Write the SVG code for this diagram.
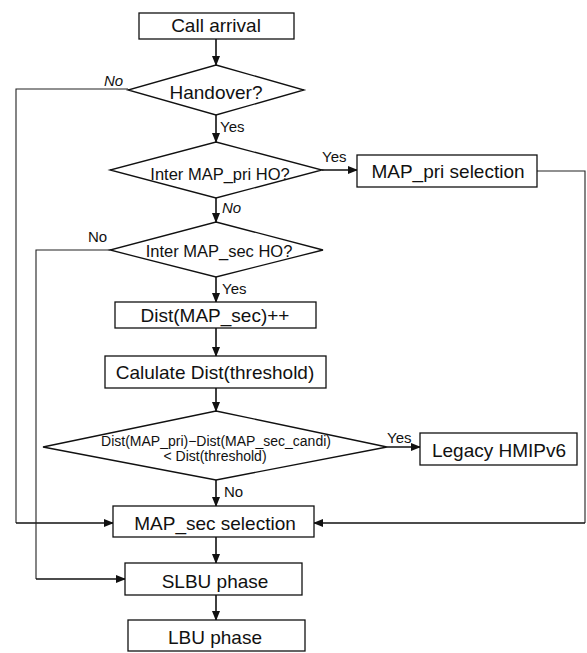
<svg xmlns="http://www.w3.org/2000/svg" width="587" height="653" viewBox="0 0 587 653">
<style>
  .box{fill:#fff;stroke:#111;stroke-width:1.3}
  .dia{fill:#fff;stroke:#111;stroke-width:1.3}
  .t{font-family:"Liberation Sans",Arial,sans-serif;fill:#111;text-anchor:middle}
  .big{font-size:19px}
  .mid{font-size:16.5px}
  .sm{font-size:14px}
  .lbl{font-family:"Liberation Sans",Arial,sans-serif;fill:#111;font-size:15px}
  .it{font-style:italic}
  .ln{fill:none;stroke:#111;stroke-width:1.6}
  .thin{fill:none;stroke:#222;stroke-width:1.1}
</style>
<defs>
  <marker id="ah" markerWidth="10" markerHeight="8" refX="9" refY="4" orient="auto" markerUnits="userSpaceOnUse">
    <path d="M0,0 L10,4 L0,8 Z" fill="#111"/>
  </marker>
</defs>
<rect width="587" height="653" fill="#fff"/>
<g id="connectors">
  <line class="ln" x1="216" y1="39" x2="216" y2="65" marker-end="url(#ah)"/>
  <line class="ln" x1="216" y1="115" x2="216" y2="142" marker-end="url(#ah)"/>
  <line class="ln" x1="216" y1="198" x2="216" y2="222" marker-end="url(#ah)"/>
  <line class="ln" x1="216" y1="277" x2="216" y2="302" marker-end="url(#ah)"/>
  <line class="ln" x1="216" y1="328" x2="216" y2="356" marker-end="url(#ah)"/>
  <line class="ln" x1="216" y1="388" x2="216" y2="411" marker-end="url(#ah)"/>
  <line class="ln" x1="216" y1="480" x2="216" y2="506" marker-end="url(#ah)"/>
  <line class="ln" x1="216" y1="537" x2="216" y2="563" marker-end="url(#ah)"/>
  <line class="ln" x1="216" y1="595" x2="216" y2="620" marker-end="url(#ah)"/>
  <line class="ln" x1="322" y1="170" x2="357" y2="170" marker-end="url(#ah)"/>
  <line class="ln" x1="387" y1="447" x2="420" y2="447" marker-end="url(#ah)"/>
  <polyline class="thin" points="128,89 16,89 16,523"/>
  <line class="ln" x1="16" y1="523" x2="113" y2="523" marker-end="url(#ah)"/>
  <polyline class="thin" points="537,171 585,171 585,523"/>
  <line class="ln" x1="585" y1="523" x2="314" y2="523" marker-end="url(#ah)"/>
  <polyline class="thin" points="110,250 36,250 36,579"/>
  <line class="ln" x1="36" y1="579" x2="125" y2="579" marker-end="url(#ah)"/>
  <text class="lbl it" x="104" y="86">No</text>
  <text class="lbl" x="220" y="132">Yes</text>
  <text class="lbl" x="322" y="162">Yes</text>
  <text class="lbl it" x="222" y="213">No</text>
  <text class="lbl" x="88" y="242">No</text>
  <text class="lbl" x="222" y="294">Yes</text>
  <text class="lbl" x="387" y="443">Yes</text>
  <text class="lbl" x="224" y="497">No</text>
</g>
<g id="call-arrival">
  <rect class="box" x="139" y="13" width="155" height="26"/>
  <text class="t big" x="216" y="32">Call arrival</text>
</g>
<g id="handover">
  <polygon class="dia" points="216,65 304,90 216,115 128,90"/>
  <text class="t big" x="216" y="99">Handover?</text>
</g>
<g id="inter-map-pri">
  <polygon class="dia" points="216,142 322,170 216,198 110,170"/>
  <text class="t mid" x="220" y="180">Inter MAP_pri HO?</text>
</g>
<g id="map-pri-selection">
  <rect class="box" x="357" y="155" width="180" height="32"/>
  <text class="t big" x="448" y="178">MAP_pri selection</text>
</g>
<g id="inter-map-sec">
  <polygon class="dia" points="216,222 323,250 216,277 110,250"/>
  <text class="t mid" x="219" y="257">Inter MAP_sec HO?</text>
</g>
<g id="dist-map-sec">
  <rect class="box" x="115" y="302" width="201" height="26"/>
  <text class="t big" x="215" y="322">Dist(MAP_sec)++</text>
</g>
<g id="calculate">
  <rect class="box" x="105" y="356" width="221" height="32"/>
  <text class="t big" x="215" y="379">Calulate Dist(threshold)</text>
</g>
<g id="dist-compare">
  <polygon class="dia" points="216,411 387,447 216,480 43,447"/>
  <text class="t sm" x="216" y="446">Dist(MAP_pri)−Dist(MAP_sec_candi)</text>
  <text class="t sm" x="215" y="461">&lt; Dist(threshold)</text>
</g>
<g id="legacy-hmipv6">
  <rect class="box" x="420" y="433" width="157" height="32"/>
  <text class="t big" x="499" y="457">Legacy HMIPv6</text>
</g>
<g id="map-sec-selection">
  <rect class="box" x="113" y="506" width="201" height="31"/>
  <text class="t big" x="215" y="530">MAP_sec selection</text>
</g>
<g id="slbu-phase">
  <rect class="box" x="125" y="563" width="177" height="32"/>
  <text class="t big" x="215" y="588">SLBU phase</text>
</g>
<g id="lbu-phase">
  <rect class="box" x="128" y="620" width="177" height="31"/>
  <text class="t big" x="215" y="644">LBU phase</text>
</g>
</svg>
